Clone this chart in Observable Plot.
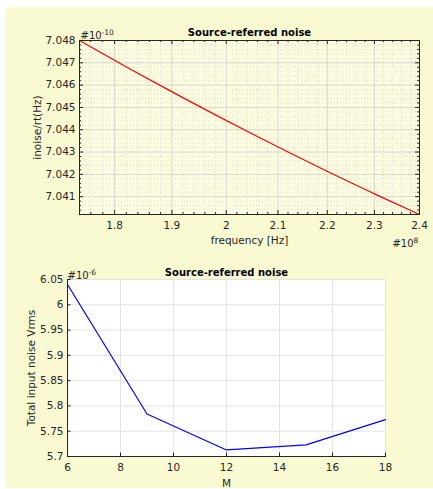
<!DOCTYPE html>
<html>
<head>
<meta charset="utf-8">
<script src="https://cdn.jsdelivr.net/npm/d3@7"></script>
<script src="https://cdn.jsdelivr.net/npm/@observablehq/plot@0.6"></script>
<style>
  html, body { margin: 0; padding: 0; background: #ffffff; }
  body { width: 433px; height: 489px; position: relative; overflow: hidden; }
  #bg { position: absolute; left: 6px; top: 7px; width: 427px; height: 481px; background: #fafad2; }
  #p1 { position: absolute; left: 0; top: 0; }
  #p2 { position: absolute; left: 0; top: 250px; }
</style>
</head>
<body>
<div id="bg"></div>
<div id="p1"></div>
<div id="p2"></div>
<script>
// ---- Top chart data (frequency in units of 1e8 Hz, noise in units of 1e-10) ----
const freq = [1.7414, 1.8270, 1.9154, 2.0443, 2.1858, 2.3131, 2.4];
const inoise = [7.0480, 7.046715, 7.045495, 7.043874, 7.042284, 7.041001, 7.04020];
const freqTicks = [1.8, 1.9, 2, 2.1, 2.2, 2.3, 2.4];
const freqMinor = [1.76, 1.78, 1.82, 1.84, 1.86, 1.88, 1.92, 1.94, 1.96, 1.98, 2.02, 2.04, 2.06, 2.08,
                   2.12, 2.14, 2.16, 2.18, 2.22, 2.24, 2.26, 2.28, 2.32, 2.34, 2.36, 2.38];
const noiseTicks = [7.041, 7.042, 7.043, 7.044, 7.045, 7.046, 7.047, 7.048];
const noiseMinor = [7.0404, 7.0406, 7.0408, 7.0412, 7.0414, 7.0416, 7.0418, 7.0422, 7.0424, 7.0426, 7.0428,
                    7.0432, 7.0434, 7.0436, 7.0438, 7.0442, 7.0444, 7.0446, 7.0448, 7.0452, 7.0454, 7.0456, 7.0458,
                    7.0462, 7.0464, 7.0466, 7.0468, 7.0472, 7.0474, 7.0476, 7.0478];

// ---- Bottom chart data (noise in units of 1e-6 Vrms) ----
const M = [6, 9, 12, 15, 18];
const vrms = [6.040, 5.784, 5.713, 5.723, 5.773];
const mTicks = [6, 8, 10, 12, 14, 16, 18];
const vTicks = [5.7, 5.75, 5.8, 5.85, 5.9, 5.95, 6, 6.05];

const axisColor = "#262626";
const font = "DejaVu Sans";

// ---------- Top plot ----------
const topData = freq.map((f, i) => ({f, n: inoise[i]}));
const W1 = 433, H1 = 250, mL1 = 79, mR1 = 14, mT1 = 40, mB1 = 36;
const ph1 = H1 - mT1 - mB1, pw1 = W1 - mL1 - mR1;

const plot1 = Plot.plot({
  width: W1, height: H1,
  marginLeft: mL1, marginRight: mR1, marginTop: mT1, marginBottom: mB1,
  style: {background: "transparent", fontFamily: font, fontSize: "10.5px", color: axisColor, overflow: "visible"},
  x: {type: "log", domain: [1.7414, 2.4]},
  y: {domain: [7.0402, 7.048]},
  marks: [
    Plot.frame({fill: "#fcfce0", stroke: null}),
    Plot.ruleX(freqMinor, {stroke: "#dadad2", strokeWidth: 0.8, strokeDasharray: "1,2"}),
    Plot.ruleY(noiseMinor, {stroke: "#dadad2", strokeWidth: 0.8, strokeDasharray: "1,2"}),
    Plot.ruleX(freqTicks, {stroke: "#d6d6cc", strokeWidth: 1}),
    Plot.ruleY(noiseTicks, {stroke: "#d6d6cc", strokeWidth: 1}),
    Plot.line(topData, {x: "f", y: "n", stroke: "#ff0000", strokeWidth: 1.2, curve: "monotone-x"}),
    Plot.frame({stroke: axisColor, strokeWidth: 1}),
    Plot.tickX(freqTicks, {x: d => d, insetTop: ph1 - 4, stroke: axisColor}),
    Plot.tickX(freqTicks, {x: d => d, insetBottom: ph1 - 4, stroke: axisColor}),
    Plot.tickY(noiseTicks, {y: d => d, insetRight: pw1 - 4, stroke: axisColor}),
    Plot.tickY(noiseTicks, {y: d => d, insetLeft: pw1 - 4, stroke: axisColor}),
    Plot.tickX(freqMinor, {x: d => d, insetTop: ph1 - 2, stroke: axisColor}),
    Plot.tickX(freqMinor, {x: d => d, insetBottom: ph1 - 2, stroke: axisColor}),
    Plot.tickY(noiseMinor, {y: d => d, insetRight: pw1 - 2, stroke: axisColor}),
    Plot.tickY(noiseMinor, {y: d => d, insetLeft: pw1 - 2, stroke: axisColor}),
    Plot.axisX(freqTicks, {tickSize: 0, tickPadding: 7, tickFormat: d => String(d), label: null, fill: axisColor}),
    Plot.axisY(noiseTicks, {tickSize: 0, tickPadding: 4, tickFormat: d3.format(".3f"), label: null, fill: axisColor}),
    Plot.text(["Source-referred noise"], {frameAnchor: "top", lineAnchor: "bottom", dy: -5, fontWeight: "bold", fontSize: 10, fill: "#000"}),
    Plot.text(["#10"], {frameAnchor: "top-left", textAnchor: "start", lineAnchor: "bottom", dy: -2, dx: 1, fontSize: 10, fill: axisColor}),
    Plot.text(["-10"], {frameAnchor: "top-left", textAnchor: "start", lineAnchor: "bottom", dy: -6, dx: 22, fontSize: 7.5, fill: axisColor}),
    Plot.text(["#10"], {frameAnchor: "bottom-right", textAnchor: "end", lineAnchor: "bottom", dy: 32, dx: -6, fontSize: 10, fill: axisColor}),
    Plot.text(["8"], {frameAnchor: "bottom-right", textAnchor: "start", lineAnchor: "bottom", dy: 28, dx: -6, fontSize: 7.5, fill: axisColor}),
    Plot.text(["frequency [Hz]"], {frameAnchor: "bottom", lineAnchor: "bottom", dy: 29, fontSize: 10.5, fill: axisColor}),
    Plot.text(["inoise/rt(Hz)"], {frameAnchor: "left", rotate: -90, dx: -42, textAnchor: "middle", lineAnchor: "middle", fontSize: 10.5, fill: axisColor})
  ]
});
document.getElementById("p1").appendChild(plot1);

// ---------- Bottom plot ----------
const bottomData = M.map((m, i) => ({m, v: vrms[i]}));
const W2 = 433, H2 = 239, mL2 = 67, mR2 = 48, mT2 = 29, mB2 = 33;
const ph2 = H2 - mT2 - mB2, pw2 = W2 - mL2 - mR2;

const plot2 = Plot.plot({
  width: W2, height: H2,
  marginLeft: mL2, marginRight: mR2, marginTop: mT2, marginBottom: mB2,
  style: {background: "transparent", fontFamily: font, fontSize: "10.5px", color: axisColor, overflow: "visible"},
  x: {domain: [6, 18]},
  y: {domain: [5.7, 6.05]},
  marks: [
    Plot.frame({fill: "#ffffff", stroke: null}),
    Plot.ruleX(mTicks, {stroke: "#e3e3e3", strokeWidth: 1}),
    Plot.ruleY(vTicks, {stroke: "#e3e3e3", strokeWidth: 1}),
    Plot.line(bottomData, {x: "m", y: "v", stroke: "#0000ff", strokeWidth: 1.2}),
    Plot.frame({anchor: "bottom", stroke: axisColor, strokeWidth: 1}),
    Plot.frame({anchor: "left", stroke: axisColor, strokeWidth: 1}),
    Plot.tickX(mTicks, {x: d => d, insetTop: ph2 - 3.5, stroke: axisColor}),
    Plot.tickY(vTicks, {y: d => d, insetRight: pw2 - 3.5, stroke: axisColor}),
    Plot.axisX(mTicks, {tickSize: 0, tickPadding: 7, tickFormat: d => String(d), label: null, fill: axisColor}),
    Plot.axisY(vTicks, {tickSize: 0, tickPadding: 4, tickFormat: d => String(d), label: null, fill: axisColor}),
    Plot.text(["Source-referred noise"], {frameAnchor: "top", lineAnchor: "bottom", dy: -4, fontWeight: "bold", fontSize: 10, fill: "#000"}),
    Plot.text(["#10"], {frameAnchor: "top-left", textAnchor: "start", lineAnchor: "bottom", dy: -1, dx: 0, fontSize: 10, fill: axisColor}),
    Plot.text(["-6"], {frameAnchor: "top-left", textAnchor: "start", lineAnchor: "bottom", dy: -5, dx: 21, fontSize: 7.5, fill: axisColor}),
    Plot.text(["M"], {frameAnchor: "bottom", lineAnchor: "bottom", dy: 30, fontSize: 10.5, fill: axisColor}),
    Plot.text(["Total input noise Vrms"], {frameAnchor: "left", rotate: -90, dx: -36, textAnchor: "middle", lineAnchor: "middle", fontSize: 10.5, fill: axisColor})
  ]
});
document.getElementById("p2").appendChild(plot2);
</script>
</body>
</html>
